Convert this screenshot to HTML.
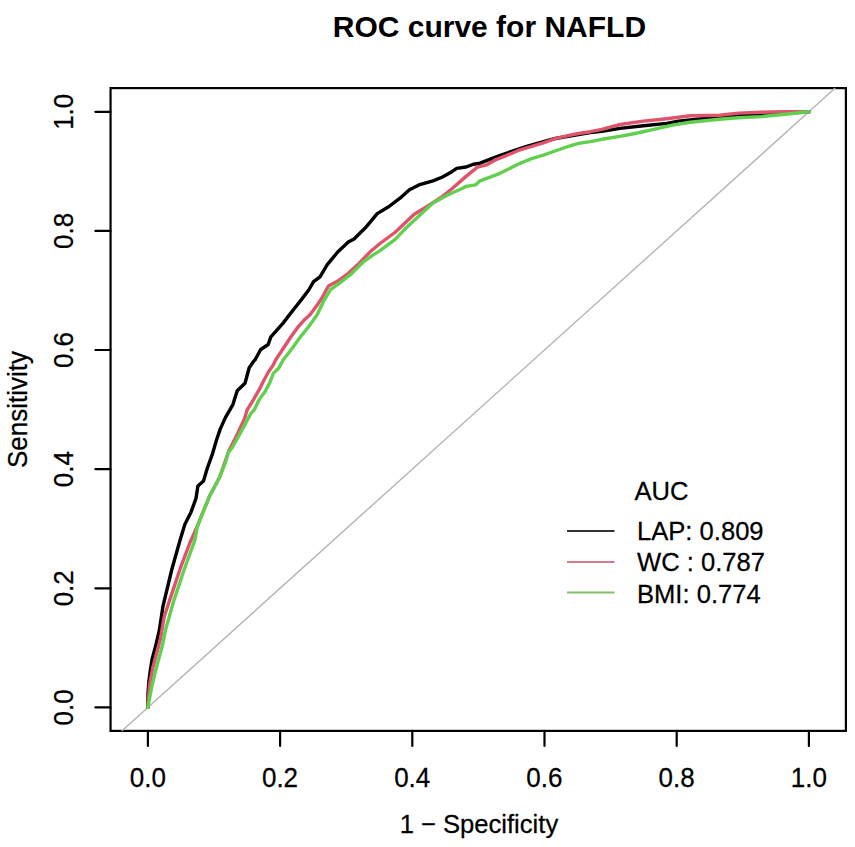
<!DOCTYPE html>
<html><head><meta charset="utf-8"><style>
html,body{margin:0;padding:0;background:#fff;}
svg{display:block;}
text{font-family:"Liberation Sans",sans-serif;fill:#000;stroke:#000;stroke-width:0.25px;}
text.t{stroke-width:0;}
</style></head><body>
<svg width="855" height="847" viewBox="0 0 855 847">
<rect width="855" height="847" fill="#fff"/>
<text x="489.4" y="37.2" font-size="30" font-weight="bold" text-anchor="middle" class="t">ROC curve for NAFLD</text>
<rect x="110.55" y="88.1" width="735.35" height="642.8" fill="none" stroke="#000" stroke-width="2.2"/>
<path d="M121.8,730.9 L835.2,88.1" stroke="#b4b4b4" stroke-width="1.4" fill="none"/>
<g stroke="#000" stroke-width="2.2" stroke-linecap="round">
<path d="M95.4,111.8 H110.55 M95.4,230.9 H110.55 M95.4,350.0 H110.55 M95.4,469.2 H110.55 M95.4,588.3 H110.55 M95.4,707.4 H110.55"/>
<path d="M147.9,730.9 V745.9 M280.1,730.9 V745.9 M412.3,730.9 V745.9 M544.5,730.9 V745.9 M676.7,730.9 V745.9 M808.9,730.9 V745.9"/>
</g>
<g font-size="26" text-anchor="middle">
<text transform="translate(73.0,111.8) rotate(-90) scale(1,1.03)">1.0</text>
<text transform="translate(73.0,230.9) rotate(-90) scale(1,1.03)">0.8</text>
<text transform="translate(73.0,350.0) rotate(-90) scale(1,1.03)">0.6</text>
<text transform="translate(73.0,469.2) rotate(-90) scale(1,1.03)">0.4</text>
<text transform="translate(73.0,588.3) rotate(-90) scale(1,1.03)">0.2</text>
<text transform="translate(73.0,707.4) rotate(-90) scale(1,1.03)">0.0</text>
<text transform="translate(147.8,787.4) scale(1,1.03)">0.0</text>
<text transform="translate(280.0,787.4) scale(1,1.03)">0.2</text>
<text transform="translate(412.2,787.4) scale(1,1.03)">0.4</text>
<text transform="translate(544.4,787.4) scale(1,1.03)">0.6</text>
<text transform="translate(676.6,787.4) scale(1,1.03)">0.8</text>
<text transform="translate(808.8,787.4) scale(1,1.03)">1.0</text>
<text transform="translate(26.9,409.5) rotate(-90) scale(1,1.03)">Sensitivity</text>
<text transform="translate(478.9,832.8) scale(1,1.03)" font-size="25.6">1 − Specificity</text>
</g>
<g fill="none" stroke-width="3.4" stroke-linejoin="round" stroke-linecap="round">
<path d="M147.9,707.4 L148.0,694.3 L148.8,682.0 L150.4,669.7 L152.3,658.4 L156.1,644.2 L159.4,630.0 L163.0,606.1 L171.8,569.5 L180.1,540.0 L184.9,524.3 L191.1,511.9 L196.0,498.3 L197.9,485.9 L203.5,480.9 L207.2,468.5 L212.1,454.9 L216.5,440.0 L220.2,429.1 L225.5,417.4 L232.9,404.6 L237.2,390.8 L245.0,383.3 L249.2,367.7 L254.2,360.6 L255.0,360.0 L260.7,349.5 L268.2,344.5 L270.7,337.1 L277.3,329.7 L283.1,323.1 L288.8,315.6 L294.6,308.2 L301.2,299.9 L308.7,290.0 L313.6,281.7 L320.0,276.8 L327.1,264.8 L337.7,252.0 L348.3,242.1 L354.0,239.0 L365.4,227.8 L377.2,213.6 L389.0,206.5 L400.0,198.2 L409.4,189.7 L418.9,184.9 L433.0,180.8 L442.5,177.0 L451.9,171.7 L456.7,168.4 L466.1,167.0 L473.7,164.2 L480.0,163.2 L498.9,155.8 L517.8,149.3 L525.8,146.7 L555.1,138.5 L590.2,132.6 L601.9,131.3 L620.0,128.4 L643.4,125.7 L666.8,123.4 L678.5,121.1 L701.9,118.7 L719.4,117.5 L732.5,116.1 L750.1,114.3 L773.5,113.7 L808.9,111.8" stroke="#000"/>
<path d="M147.9,707.4 L149.5,684.8 L152.8,667.8 L156.5,653.6 L160.3,639.5 L164.2,616.7 L172.0,593.1 L180.7,567.2 L190.0,542.5 L197.0,527.0 L202.0,514.4 L209.7,495.8 L219.6,477.2 L228.8,451.0 L237.2,434.4 L244.6,418.4 L247.1,410.0 L253.5,399.6 L259.2,389.7 L263.4,381.2 L268.4,372.0 L273.3,364.9 L275.6,360.0 L284.7,346.2 L291.3,336.3 L297.9,327.2 L303.7,320.6 L310.0,314.8 L318.3,303.4 L321.4,298.8 L328.5,286.0 L337.7,281.1 L348.3,273.3 L359.0,263.4 L369.6,252.3 L380.0,243.5 L394.9,232.5 L400.0,227.7 L414.2,214.2 L428.3,205.7 L442.5,196.3 L451.9,188.7 L466.1,176.4 L477.4,167.1 L486.8,164.8 L496.1,159.6 L505.5,155.9 L520.0,149.8 L531.7,146.3 L543.4,142.8 L555.1,138.7 L566.8,135.8 L578.5,133.5 L590.2,131.7 L601.9,129.4 L611.1,126.8 L620.0,124.5 L643.4,121.1 L666.8,118.7 L690.2,115.8 L719.4,115.2 L738.4,113.1 L761.8,112.3 L785.2,111.6 L808.9,111.8" stroke="#DF536B"/>
<path d="M147.9,707.4 L148.5,703.7 L151.8,686.7 L155.1,672.5 L158.9,658.4 L162.7,644.2 L165.5,630.0 L173.6,601.4 L184.2,569.5 L194.9,540.0 L197.3,526.8 L202.2,514.4 L209.7,495.8 L214.0,488.0 L219.6,477.2 L225.4,462.6 L228.3,452.4 L231.9,448.2 L242.5,429.1 L251.0,413.1 L254.2,410.0 L259.2,399.6 L265.5,391.1 L269.8,382.6 L273.3,373.4 L279.0,367.7 L283.1,360.0 L291.3,349.5 L299.6,337.9 L306.2,329.7 L310.0,324.7 L317.0,315.0 L324.2,300.0 L330.6,289.6 L341.2,281.8 L351.9,273.3 L362.5,262.7 L373.1,254.9 L380.0,250.6 L394.9,239.6 L404.7,229.3 L418.9,216.1 L433.0,202.9 L447.2,195.3 L461.4,188.7 L466.1,186.4 L475.5,184.9 L480.0,180.8 L498.9,173.8 L520.0,163.3 L531.7,158.6 L543.4,155.1 L555.1,151.0 L566.8,146.9 L578.5,143.4 L590.2,141.6 L601.9,139.3 L620.0,136.4 L635.0,133.5 L655.1,129.2 L672.6,125.1 L690.2,122.2 L719.4,119.3 L738.4,117.8 L761.8,116.6 L785.2,114.3 L808.9,111.8" stroke="#61D04F"/>
</g>
<g font-size="25.6">
<text transform="translate(634.5,500.3) scale(1,1.03)">AUC</text>
<text transform="translate(637,539.8) scale(1,1.03)">LAP: 0.809</text>
<text transform="translate(637,570.9) scale(1,1.03)">WC : 0.787</text>
<text transform="translate(637,603) scale(1,1.03)">BMI: 0.774</text>
</g>
<g stroke-width="2">
<path d="M567,531 H614.5" stroke="#333"/>
<path d="M567,562 H614.5" stroke="#d07a8c"/>
<path d="M567,592.6 H614.5" stroke="#80c070"/>
</g>
</svg>
</body></html>
